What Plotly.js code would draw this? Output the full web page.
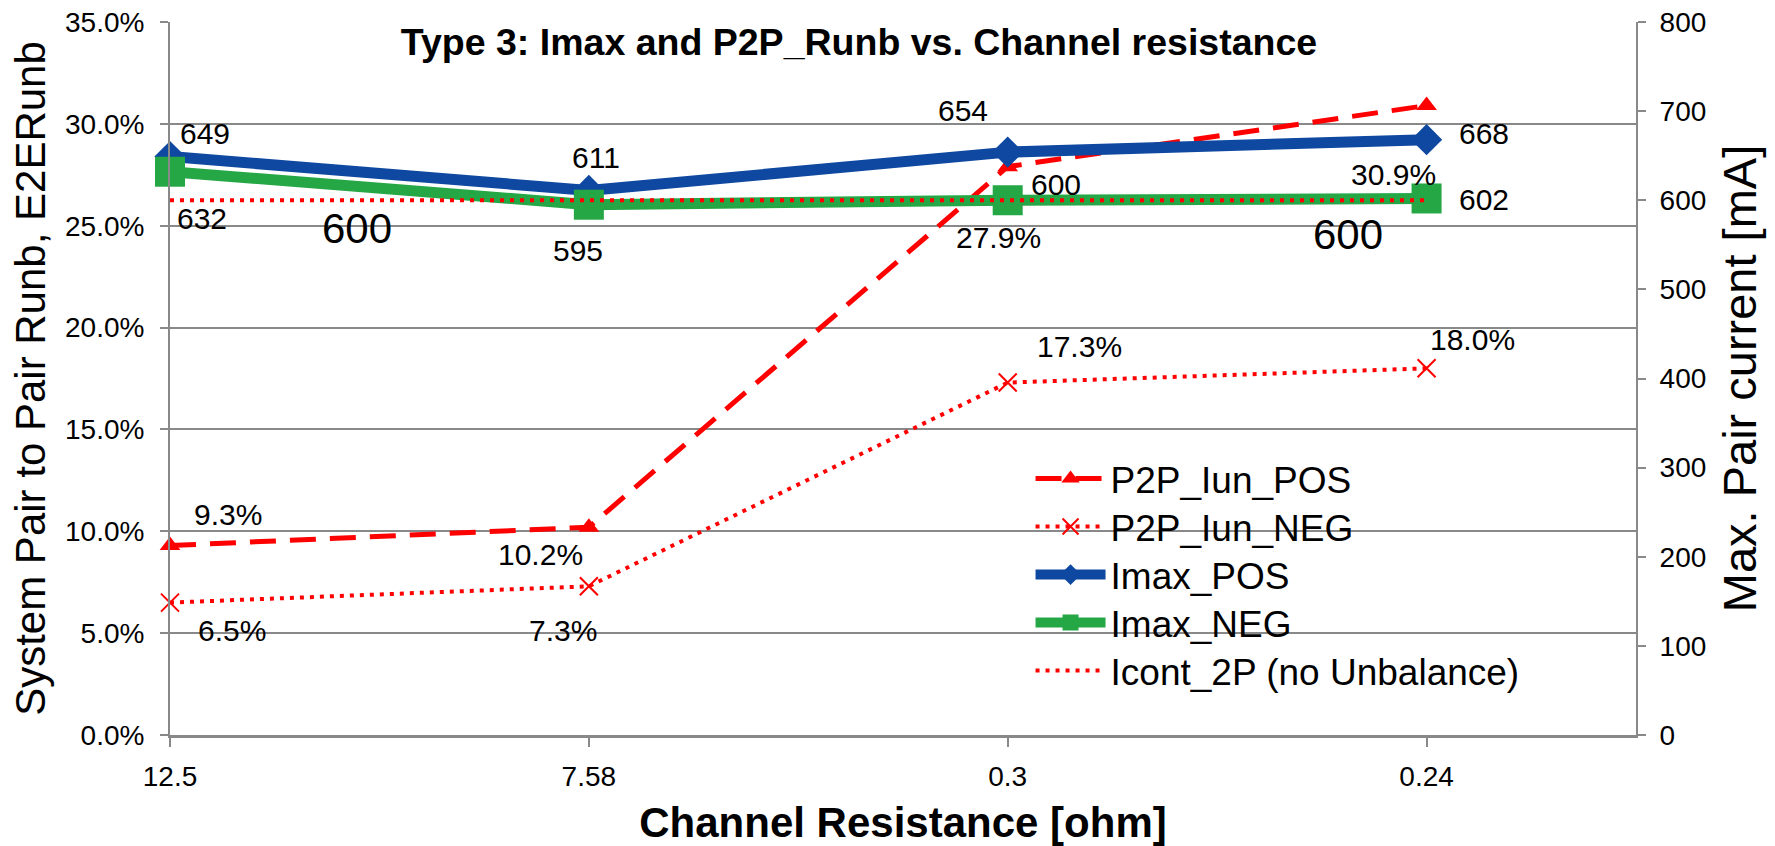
<!DOCTYPE html>
<html>
<head>
<meta charset="utf-8">
<script src="https://cdn.plot.ly/plotly-3.0.1.min.js"></script>
<style>html,body{margin:0;padding:0;background:#fff;}#chart{width:1775px;height:846px;}</style>
</head>
<body>
<div id="chart"></div>
<script>
// ---- data ----
const categories = ['12.5', '7.58', '0.3', '0.24'];
const p2pIunPos = [0.093, 0.102, 0.279, 0.309];
const p2pIunNeg = [0.065, 0.073, 0.173, 0.180];
const imaxPos = [649, 611, 654, 668];
const imaxNeg = [632, 595, 600, 602];
const icont2P = [600, 600, 600, 600];
const seriesNames = ['P2P_Iun_POS', 'P2P_Iun_NEG', 'Imax_POS', 'Imax_NEG', 'Icont_2P (no Unbalance)'];

// ---- label placement (pixel offsets from each point) ----
const offP2PPos = [[58, 31], [-48, -27], [-9, -71], [-33, -69]];
const offP2PNeg = [[62, -28], [-26, -44], [72, 36], [46, 29]];
const offImaxPos = [[35, 23], [7, 33], [-45, 42], [57, 6]];
const offImaxNeg = [[32, -47], [-11, -46], [48, 16], [57, -1]];
const icontLabelIdx = [0, 3];
const offIcont = [[187, -28], [-79, -34]];

// legend rows (paper y of each row centre)
const legendRowsY = [0.359, 0.2917, 0.2244, 0.1571, 0.0898];
const legendIds = ['legend', 'legend2', 'legend3', 'legend4', 'legend5'];

const FONT = 'Liberation Sans, Arial, sans-serif';
const RED = '#FF0000', BLUE = '#0E48A0', GREEN = '#25A746', GRID = '#898989';

const traces = [
  {x: categories, y: p2pIunPos, name: seriesNames[0], yaxis: 'y', mode: 'lines+markers', cliponaxis: false,
   line: {color: RED, width: 5, dash: '26px,14px'}, marker: {symbol: 'triangle-up', size: 18, color: RED}},
  {x: categories, y: p2pIunNeg, name: seriesNames[1], yaxis: 'y', mode: 'lines+markers', cliponaxis: false,
   line: {color: RED, width: 4, dash: '4px,6px'}, marker: {symbol: 'x-thin', size: 18, color: RED, line: {color: RED, width: 2}}},
  {x: categories, y: imaxPos, name: seriesNames[2], yaxis: 'y2', mode: 'lines+markers', cliponaxis: false,
   line: {color: BLUE, width: 11}, marker: {symbol: 'diamond', size: 24, color: BLUE}},
  {x: categories, y: imaxNeg, name: seriesNames[3], yaxis: 'y2', mode: 'lines+markers', cliponaxis: false,
   line: {color: GREEN, width: 11}, marker: {symbol: 'square', size: 30, color: GREEN}},
  {x: categories, y: icont2P, name: seriesNames[4], yaxis: 'y2', mode: 'lines', cliponaxis: false,
   line: {color: RED, width: 4, dash: '4px,6px'}}
];
traces.forEach((t, i) => { t.legend = legendIds[i]; t.showlegend = true; });

const pct = v => (v * 100).toFixed(1) + '%';
const annotations = [];
function addLabels(vals, offs, yref, fmt, size, idxs) {
  (idxs || vals.map((_, i) => i)).forEach((i, k) => {
    const o = idxs ? offs[k] : offs[i];
    annotations.push({x: i, y: vals[i], xref: 'x', yref: yref, text: fmt(vals[i]),
      showarrow: false, xshift: o[0], yshift: o[1], xanchor: 'center', yanchor: 'middle',
      font: {family: FONT, size: size, color: '#000'}});
  });
}
addLabels(p2pIunPos, offP2PPos, 'y', pct, 30);
addLabels(p2pIunNeg, offP2PNeg, 'y', pct, 30);
addLabels(imaxPos, offImaxPos, 'y2', v => String(v), 30);
addLabels(imaxNeg, offImaxNeg, 'y2', v => String(v), 30);
addLabels(icont2P, offIcont, 'y2', v => String(v), 42, icontLabelIdx);

const layout = {
  width: 1775, height: 846,
  margin: {l: 170, r: 139, t: 22, b: 111, pad: 0},
  paper_bgcolor: '#fff', plot_bgcolor: '#fff',
  font: {family: FONT, color: '#000', size: 28},
  showlegend: true,
  title: {text: 'Type 3: Imax and P2P_Runb vs. Channel resistance', xref: 'container', yref: 'container',
    x: 859 / 1775, xanchor: 'center', y: 1 - 42 / 846, yanchor: 'middle',
    font: {family: FONT, size: 37.5, weight: 'bold', color: '#000'}},
  xaxis: {type: 'category', range: [0, 3.5], showline: true, linecolor: GRID, linewidth: 3,
    ticks: 'outside', ticklen: 9, tickwidth: 2, tickcolor: GRID, showgrid: false, zeroline: false,
    tickfont: {size: 28}, ticklabelstandoff: 5,
    title: {text: 'Channel Resistance [ohm]', font: {size: 42, weight: 'bold'}, standoff: 18}},
  yaxis: {range: [0, 0.35], dtick: 0.05, tick0: 0, tickformat: '.1%', showgrid: true, gridcolor: GRID, gridwidth: 2,
    showline: true, linecolor: GRID, linewidth: 2, ticks: 'outside', ticklen: 8, tickwidth: 2, tickcolor: GRID,
    zeroline: false, tickfont: {size: 28}, ticklabelstandoff: 10,
    title: {text: 'System Pair to Pair Runb, E2ERunb', font: {size: 42}, standoff: 6}},
  yaxis2: {range: [0, 800], dtick: 100, tick0: 0, overlaying: 'y', side: 'right', showgrid: false,
    showline: true, linecolor: GRID, linewidth: 2, ticks: 'outside', ticklen: 8, tickwidth: 2, tickcolor: GRID,
    zeroline: false, tickfont: {size: 28}, ticklabelstandoff: 8,
    title: {text: 'Max. Pair current [mA]', font: {size: 47}, standoff: 18}},
  annotations: annotations
};
legendIds.forEach((id, i) => {
  layout[id] = {x: 0.587, y: legendRowsY[i], xanchor: 'left', yanchor: 'middle', bgcolor: 'rgba(0,0,0,0)',
    borderwidth: 0, font: {family: FONT, size: 37, color: '#000'}, itemwidth: 70, tracegroupgap: 0};
});

Plotly.newPlot('chart', traces, layout, {staticPlot: true, displayModeBar: false});
</script>
</body>
</html>
